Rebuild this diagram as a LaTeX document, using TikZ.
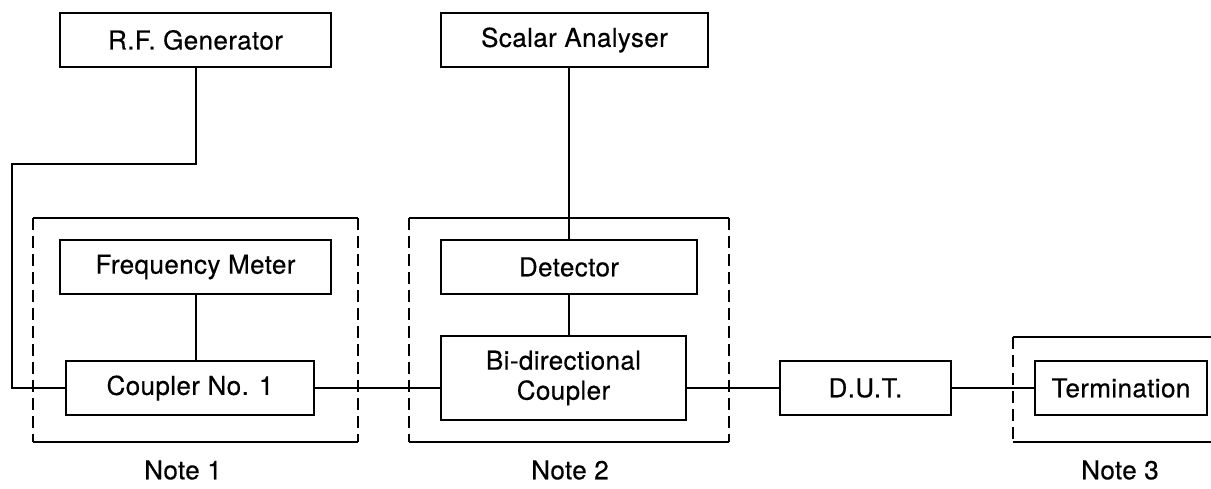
\documentclass[tikz,border=0pt]{standalone}
\usepackage{fontspec}
\setmainfont[LetterSpace=1.5,FakeBold=0.4]{TeX Gyre Heros}
\begin{document}
\begin{tikzpicture}[x=0.5pt,y=-0.5pt,line width=1.35pt,
  every node/.style = {font=\fontsize{13}{15}\selectfont},
  unit/.style = {shape=rectangle, draw, align=center, minimum height=27pt,
    inner sep=0pt},
  wall/.style = {dash pattern=on 6pt off 3pt}]
  \useasboundingbox (0,0) rectangle (1211,488);
  % instruments
  \node[unit, minimum width=135.5pt] (rfgen) at (195.5,40) {R.F. Generator};
  \node[unit, minimum width=133.5pt] (scalar) at (574.5,40) {Scalar Analyser};
  \node[unit, minimum width=135.5pt] (fmeter) at (195.5,267) {Frequency Meter};
  \node[unit, minimum width=124pt] (coup1) at (190,388) {Coupler No. 1};
  \node[unit, minimum width=128pt] (detect) at (569,267) {Detector};
  \node[unit, minimum width=122.5pt, minimum height=42pt] (bidir) at (563.5,378)
    {Bi-directional\\Coupler};
  \node[unit, minimum width=85.5pt] (dut) at (865.5,388) {D.U.T.};
  \node[unit, minimum width=86pt] (term) at (1121,388) {Termination};
  % cables
  \coordinate (bend1) at (196,164);
  \coordinate (bend2) at (12,164);
  \draw (rfgen.south -| bend1) -- (bend1) -- (bend2) |- (coup1.west);
  \draw (fmeter.south -| bend1) -- (coup1.north -| bend1);
  \draw (scalar.south -| detect.north) -- (detect.north);
  \draw (detect.south) -- (detect.south |- bidir.north);
  \draw (coup1.east) -- (coup1.east -| bidir.west);
  \draw (bidir.east |- dut.west) -- (dut.west);
  \draw (dut.east) -- (term.west);
  % enclosures
  \draw (33,218) -- (358,218) (33,442) -- (358,442);
  \draw[wall] (33,218) -- (33,442) (358,218) -- (358,442);
  \draw (409,218) -- (729,218) (409,442) -- (729,442);
  \draw[wall] (409,218) -- (409,442) (729,218) -- (729,442);
  \draw (1213,337) -- (1013,337) (1013,442) -- (1213,442);
  \draw[wall] (1013,337) -- (1013,442);
  \node (note1) at (183,470) {Note 1};
  \node (note2) at (570,470) {Note 2};
  \node (note3) at (1120,470) {Note 3};
\end{tikzpicture}
\end{document}
